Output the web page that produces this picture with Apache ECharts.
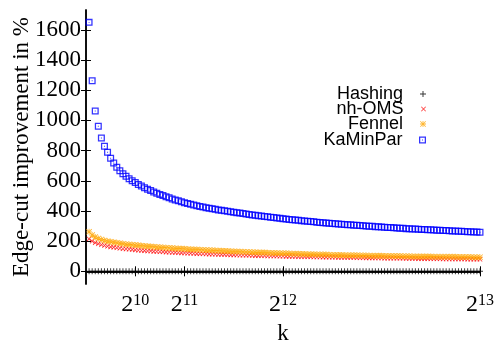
<!DOCTYPE html>
<html>
<head>
<meta charset="utf-8">
<script src="https://cdn.jsdelivr.net/npm/echarts@6/dist/echarts.min.js"></script>
<style>html,body{margin:0;padding:0;background:#fff}#c{width:497px;height:340px}</style>
</head>
<body>
<div id="c"></div>
<script>
var kValues = [64,128,192,256,320,384,448,512,576,640,704,768,832,896,960,1024,
1088,1152,1216,1280,1344,1408,1472,1536,1600,1664,1728,1792,1856,1920,1984,2048,
2112,2176,2240,2304,2368,2432,2496,2560,2624,2688,2752,2816,2880,2944,3008,3072,
3136,3200,3264,3328,3392,3456,3520,3584,3648,3712,3776,3840,3904,3968,4032,4096,
4160,4224,4288,4352,4416,4480,4544,4608,4672,4736,4800,4864,4928,4992,5056,5120,
5184,5248,5312,5376,5440,5504,5568,5632,5696,5760,5824,5888,5952,6016,6080,6144,
6208,6272,6336,6400,6464,6528,6592,6656,6720,6784,6848,6912,6976,7040,7104,7168,
7232,7296,7360,7424,7488,7552,7616,7680,7744,7808,7872,7936,8000,8064,8128,8192];

var hashing = [0,0,0,0,0,0,0,0,0,0,0,0,0,0,0,0,0,0,0,0,0,0,0,0,0,0,0,0,0,0,0,0,
0,0,0,0,0,0,0,0,0,0,0,0,0,0,0,0,0,0,0,0,0,0,0,0,0,0,0,0,0,0,0,0,
0,0,0,0,0,0,0,0,0,0,0,0,0,0,0,0,0,0,0,0,0,0,0,0,0,0,0,0,0,0,0,0,
0,0,0,0,0,0,0,0,0,0,0,0,0,0,0,0,0,0,0,0,0,0,0,0,0,0,0,0,0,0,0,0];

var nhOMS = [215,200,190,182,176,171,166,162,159,156,153,150,148,146,144,142,
140,138,137,135,134,132,131,130,129,127,126,125,124,123,122,121,
120,119,118,117,116,116,115,114,113,113,112,111,111,110,109,109,
108,107,107,106,106,105,104,104,103,103,102,102,101,101,100,100,
99,99,98,98,97,97,97,96,96,95,95,95,94,94,93,93,
93,92,92,92,91,91,91,90,90,90,89,89,89,88,88,88,
87,87,87,87,86,86,86,85,85,85,85,84,84,84,84,83,
83,83,83,82,82,82,82,81,81,81,81,80,80,80,80,80];

var fennel = [262,240,227,218,211,205,200,196,192,189,186,183,180,178,176,174,
172,170,168,166,164,163,161,160,158,157,155,154,152,151,150,149,
147,146,145,144,143,142,141,140,139,138,137,136,135,134,133,132,
131,130,129,128,128,127,126,125,124,124,123,122,121,121,120,119,
119,118,117,117,116,115,115,114,113,113,112,112,111,111,110,109,
109,108,108,107,107,107,106,106,105,105,105,104,104,103,103,103,
102,102,102,101,101,101,100,100,100,99,99,99,99,98,98,98,
97,97,97,97,96,96,96,96,95,95,95,95,95,94,94,94];

var kaminpar = [1650,1263,1062,961,884,829,789,750,718,690,667,647,630,614,600,588,
576,565,554,544,535,526,518,510,502,494,487,480,473,467,461,455,
449,444,439,434,430,426,422,418,414,411,407,404,401,398,395,392,
389,386,383,380,377,374,371,368,366,363,361,358,356,353,351,349,
346,344,342,340,338,336,334,332,330,328,326,324,322,321,319,317,
316,314,312,311,309,308,306,305,303,302,300,299,298,296,295,293,
292,291,290,288,287,286,285,283,282,281,280,279,278,277,276,275,
274,273,272,271,270,269,268,267,266,265,264,263,262,261,260,259];

var seriesNames = ['Hashing','nh-OMS','Fennel','KaMinPar'];
var xTicks = [1024,2048,4096,8192];
var yTicks = [0,200,400,600,800,1000,1200,1400,1600];

var PLUS = 'path://M4.2 0H5.8V4.2H10V5.8H5.8V10H4.2V5.8H0V4.2H4.2Z';
var CROSS = 'path://M0 1.1L1.1 0L10 8.9L8.9 10ZM8.9 0L10 1.1L1.1 10L0 8.9Z';
var STAR = 'path://M4.3 0H5.7V4.3H10V5.7H5.7V10H4.3V5.7H0V4.3H4.3ZM0 1L1 0L10 9L9 10ZM9 0L10 1L1 10L0 9Z';
var SQUARE = 'path://M0 0H10V10H0ZM1.8 1.8V8.2H8.2V1.8ZM4.3 4.3H5.7V5.7H4.3Z';

function pairs(vals){ return kValues.map(function(k,i){ return [k, vals[i]]; }); }

var serif = 'Liberation Serif';
var axisLineStyle = {color:'#000', width:1.5};

var legendTops = [85, 100, 115, 131];
var icons = [PLUS, CROSS, STAR, SQUARE];
var iconSizes = [6,5,6,7];
var legends = seriesNames.map(function(n,i){
  return {
    data:[{name:n, icon: icons[i]}],
    right: 71, top: legendTops[i], orient:'vertical', align:'right',
    itemWidth: 30, itemHeight: iconSizes[i], padding:0, selectedMode:false,
    textStyle:{fontFamily:'Liberation Sans', fontSize:18, color:'#000', lineHeight:16}
  };
});

var chart = echarts.init(document.getElementById('c'), null, {renderer:'canvas'});
chart.setOption({
  animation:false,
  backgroundColor:'#fff',
  grid:{left:86, right:17, top:10, bottom:56, containLabel:false, outerBoundsMode:'none'},
  legend: legends,
  xAxis:[{
    type:'value', min:0, max:8192, position:'bottom',
    name:'k', nameLocation:'middle', nameGap:38, nameMoveOverlap:false,
    nameTextStyle:{fontFamily:serif, fontSize:23, color:'#000'},
    axisLine:{show:true, lineStyle:axisLineStyle},
    axisTick:{show:true, inside:true, length:5, customValues:xTicks, lineStyle:{color:'#000', width:1}},
    axisLabel:{show:true, customValues:xTicks, margin:9,
      formatter:function(v){ return '{b|2}{s|' + Math.round(Math.log2(v)) + '}'; },
      rich:{
        b:{fontFamily:serif, fontSize:24, color:'#000', lineHeight:24, verticalAlign:'bottom'},
        s:{fontFamily:serif, fontSize:16, color:'#000', verticalAlign:'top'}
      }},
    splitLine:{show:false}
  },{
    type:'value', min:0, max:8192, position:'top',
    axisLine:{show:true, lineStyle:axisLineStyle},
    axisTick:{show:true, inside:true, length:5, customValues:xTicks, lineStyle:{color:'#000', width:1}},
    axisLabel:{show:false}, splitLine:{show:false}
  }],
  yAxis:[{
    type:'value', min:-84, max:1732, position:'left',
    name:'Edge-cut improvement in %', nameLocation:'middle', nameGap:53, nameRotate:90,
    nameMoveOverlap:false,
    nameTextStyle:{fontFamily:serif, fontSize:23, color:'#000'},
    axisLine:{show:true, lineStyle:axisLineStyle},
    axisTick:{show:true, inside:true, length:5, customValues:yTicks, lineStyle:{color:'#000', width:1}},
    axisLabel:{show:true, customValues:yTicks, margin:5, fontFamily:serif, fontSize:23, color:'#000',
      formatter:function(v){ return String(v); }},
    splitLine:{show:false}
  },{
    type:'value', min:-84, max:1732, position:'right',
    axisLine:{show:true, lineStyle:axisLineStyle},
    axisTick:{show:true, inside:true, length:5, customValues:yTicks, lineStyle:{color:'#000', width:1}},
    axisLabel:{show:false}, splitLine:{show:false}
  }],
  series:[
    {name:'Hashing', type:'scatter', xAxisIndex:0, yAxisIndex:0, data:pairs(hashing),
     symbol:PLUS, symbolSize:6, itemStyle:{color:'#000'}},
    {name:'nh-OMS', type:'scatter', xAxisIndex:0, yAxisIndex:0, data:pairs(nhOMS),
     symbol:CROSS, symbolSize:5, itemStyle:{color:'#ff0000'}},
    {name:'Fennel', type:'scatter', xAxisIndex:0, yAxisIndex:0, data:pairs(fennel),
     symbol:STAR, symbolSize:6, itemStyle:{color:'#ffa500'}},
    {name:'KaMinPar', type:'scatter', xAxisIndex:0, yAxisIndex:0, data:pairs(kaminpar),
     symbol:SQUARE, symbolSize:7, itemStyle:{color:'#0000ff'}}
  ]
});
</script>
</body>
</html>
